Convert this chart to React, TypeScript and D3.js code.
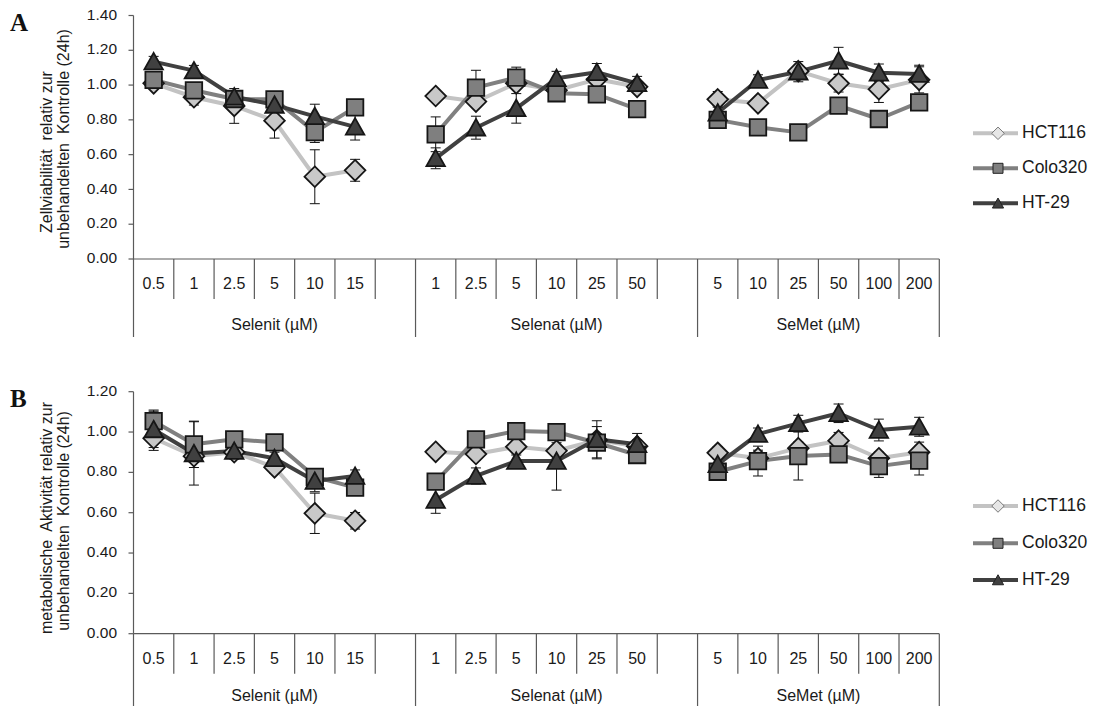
import React from "react";
import * as d3 from "d3";

// ---------- categories ----------
const SELENIT_DOSES = ["0.5", "1", "2.5", "5", "10", "15"];
const SELENAT_DOSES = ["1", "2.5", "5", "10", "25", "50"];
const SEMET_DOSES = ["5", "10", "25", "50", "100", "200"];
const GROUP_LABELS = ["Selenit (µM)", "Selenat (µM)", "SeMet (µM)"];
const SERIES_NAMES = ["HCT116", "Colo320", "HT-29"];

// ---------- panel A: Zellviabilität (Selenit 6, Selenat 6, SeMet 6) ----------
const A_HCT116 = [1.01, 0.93, 0.88, 0.795, 0.473, 0.51, 0.937, 0.905, 1.01, 0.97, 1.033, 0.99, 0.918, 0.895, 1.08, 1.01, 0.976, 1.03];
const A_HCT116_ERR = [0.02, 0.045, 0.1, 0.1, 0.155, 0.063, 0.02, 0.03, 0.03, 0.05, 0.03, 0.03, 0.045, 0.03, 0.03, 0.05, 0.076, 0.075];
const A_COLO320 = [1.03, 0.97, 0.92, 0.918, 0.73, 0.872, 0.717, 0.985, 1.043, 0.953, 0.947, 0.862, 0.8, 0.757, 0.728, 0.882, 0.805, 0.9];
const A_COLO320_ERR = [0.03, 0.04, 0.03, 0.04, 0.06, 0.03, 0.1, 0.1, 0.06, 0.04, 0.03, 0.03, 0.03, 0.02, 0.02, 0.04, 0.03, 0.03];
const A_HT29 = [1.135, 1.083, 0.933, 0.886, 0.82, 0.76, 0.579, 0.755, 0.866, 1.039, 1.074, 1.01, 0.841, 1.029, 1.077, 1.14, 1.071, 1.064];
const A_HT29_ERR = [0.03, 0.03, 0.03, 0.03, 0.07, 0.076, 0.06, 0.066, 0.085, 0.04, 0.05, 0.04, 0.04, 0.03, 0.058, 0.077, 0.05, 0.05];

// ---------- panel B: metabolische Aktivität ----------
const B_HCT116 = [0.969, 0.88, 0.9, 0.825, 0.597, 0.56, 0.902, 0.891, 0.927, 0.907, 0.96, 0.93, 0.897, 0.87, 0.92, 0.957, 0.87, 0.9];
const B_HCT116_ERR = [0.06, 0.03, 0.03, 0.03, 0.1, 0.041, 0.02, 0.03, 0.03, 0.04, 0.03, 0.03, 0.03, 0.04, 0.03, 0.041, 0.03, 0.05];
const B_COLO320 = [1.054, 0.939, 0.964, 0.949, 0.778, 0.724, 0.754, 0.964, 1.005, 1.0, 0.947, 0.886, 0.803, 0.856, 0.881, 0.889, 0.831, 0.858];
const B_COLO320_ERR = [0.055, 0.115, 0.03, 0.02, 0.04, 0.03, 0.02, 0.03, 0.03, 0.03, 0.08, 0.04, 0.02, 0.074, 0.119, 0.03, 0.056, 0.071];
const B_HT29 = [1.013, 0.894, 0.906, 0.87, 0.757, 0.782, 0.663, 0.782, 0.856, 0.856, 0.964, 0.939, 0.84, 0.99, 1.043, 1.093, 1.01, 1.026];
const B_HT29_ERR = [0.09, 0.157, 0.04, 0.03, 0.053, 0.03, 0.066, 0.04, 0.03, 0.144, 0.092, 0.054, 0.03, 0.03, 0.04, 0.046, 0.054, 0.047];

const A_TICKS = [0, 0.2, 0.4, 0.6, 0.8, 1.0, 1.2, 1.4];
const B_TICKS = [0, 0.2, 0.4, 0.6, 0.8, 1.0, 1.2];

const A_TITLE = ["Zellviabilität  relativ zur", "unbehandelten  Kontrolle (24h)"];
const B_TITLE = ["metabolische  Aktivität relativ zur", "unbehandelten  Kontrolle (24h)"];

// ---------- styles ----------
const LINE_COLORS = ["#c3c3c3", "#808080", "#404040"];
const FILL_COLORS = ["#c8c8c8", "#7f7f7f", "#404040"];
const MARKERS = ["diamond", "square", "triangle"];
const FONT = "'Liberation Sans', Arial, sans-serif";
const AXIS_COLOR = "#5a5a5a";
const TEXT_COLOR = "#1a1a1a";

type Slot = { key: string; label: string; group: number; data: number };

const GROUPS = [SELENIT_DOSES, SELENAT_DOSES, SEMET_DOSES];
const SLOTS: Slot[] = [];
{
  let di = 0;
  GROUPS.forEach((doses, g) => {
    doses.forEach((d) => {
      SLOTS.push({ key: `g${g}-${d}`, label: d, group: g, data: di++ });
    });
    if (g < GROUPS.length - 1) SLOTS.push({ key: `g${g}-blank`, label: "", group: g, data: -1 });
  });
}

const x = d3
  .scaleBand<string>()
  .domain(SLOTS.map((s) => s.key))
  .range([133.5, 939.3])
  .padding(0);

function markerPath(kind: string, s: number): string {
  const h = s / 2;
  if (kind === "square") return `M${-h},${-h}H${h}V${h}H${-h}Z`;
  if (kind === "diamond") {
    const r = h * 1.25;
    return `M0,${-r}L${r},0L0,${r}L${-r},0Z`;
  }
  const w = h * 1.12;
  return `M0,${-h * 1.05}L${w},${h * 0.95}L${-w},${h * 0.95}Z`;
}

type PanelProps = {
  label: string;
  series: number[][];
  errors: number[][];
  ticks: number[];
  yMax: number;
  yTop: number;
  yBottom: number;
  title: string[];
  titleCenters: number[];
  legendYs: number[];
  groupLabelOffset: number;
};

function Panel(p: PanelProps) {
  const y = d3.scaleLinear().domain([0, p.yMax]).range([p.yBottom, p.yTop]);
  const bw = x.bandwidth();
  const cx = (key: string) => (x(key) as number) + bw / 2;
  const dataSlots = SLOTS.filter((s) => s.data >= 0);

  const boundaries = d3.range(SLOTS.length + 1);
  const longIdx = new Set<number>([0, SLOTS.length]);
  SLOTS.forEach((s, i) => {
    if (s.label === "") longIdx.add(i + 1);
  });
  const x0 = x.range()[0];
  const xAt = (i: number) => x0 + i * bw;

  const groupSpans = GROUPS.map((_, g) => {
    const idx = SLOTS.map((s, i) => (s.group === g ? i : -1)).filter((i) => i >= 0);
    return { g, start: xAt(idx[0]), end: xAt(idx[idx.length - 1] + 1) };
  });

  return (
    <g>
      <text x={10} y={p.yTop + 15} fontFamily="'Liberation Serif', 'Times New Roman', serif" fontWeight="bold" fontSize={25} fill="#111">
        {p.label}
      </text>
      {/* axis title */}
      {p.title.map((t, i) => (
        <text
          key={i}
          transform={`translate(${48 + i * 17},${p.titleCenters[i]}) rotate(-90)`}
          textAnchor="middle"
          dominantBaseline="middle"
          fontFamily={FONT}
          fontSize={16}
          fill={TEXT_COLOR}
          style={{ whiteSpace: "pre" }}
        >
          {t}
        </text>
      ))}
      {/* y axis */}
      <line x1={x0} x2={x0} y1={y(p.yMax)} y2={y(0)} stroke={AXIS_COLOR} strokeWidth={1.2} />
      {p.ticks.map((t) => (
        <g key={t}>
          <line x1={x0 - 5} x2={x0} y1={y(t)} y2={y(t)} stroke={AXIS_COLOR} strokeWidth={1.2} />
          <text x={117} y={y(t)} textAnchor="end" dominantBaseline="middle" fontFamily={FONT} fontSize={15.5} fill={TEXT_COLOR}>
            {d3.format(".2f")(t)}
          </text>
        </g>
      ))}
      {/* x axis */}
      <line x1={x0} x2={xAt(SLOTS.length)} y1={y(0)} y2={y(0)} stroke={AXIS_COLOR} strokeWidth={1.2} />
      {boundaries.map((i) => (
        <line
          key={i}
          x1={xAt(i)}
          x2={xAt(i)}
          y1={y(0)}
          y2={y(0) + (longIdx.has(i) ? 78 : 40)}
          stroke={AXIS_COLOR}
          strokeWidth={1.2}
        />
      ))}
      {SLOTS.map((s) => (
        <text key={s.key} x={cx(s.key)} y={y(0) + 26} textAnchor="middle" dominantBaseline="middle" fontFamily={FONT} fontSize={16} fill={TEXT_COLOR}>
          {s.label}
        </text>
      ))}
      {groupSpans.map((gs) => (
        <text key={gs.g} x={(gs.start + gs.end) / 2} y={y(0) + p.groupLabelOffset} textAnchor="middle" dominantBaseline="middle" fontFamily={FONT} fontSize={16} fill={TEXT_COLOR}>
          {GROUP_LABELS[gs.g]}
        </text>
      ))}
      {/* lines */}
      {p.series.map((vals, si) =>
        GROUPS.map((_, g) => {
          const pts = dataSlots.filter((s) => s.group === g);
          const l = d3
            .line<Slot>()
            .x((s) => cx(s.key))
            .y((s) => y(vals[s.data]));
          return (
            <path key={`${si}-${g}`} d={l(pts) || ""} fill="none" stroke={LINE_COLORS[si]} strokeWidth={4} strokeLinejoin="round" />
          );
        })
      )}
      {/* error bars */}
      {p.series.map((vals, si) =>
        dataSlots.map((s) => {
          const v = vals[s.data];
          const e = p.errors[si][s.data];
          const xx = cx(s.key);
          return (
            <g key={`e${si}-${s.key}`} stroke="#111" strokeWidth={1}>
              <line x1={xx} x2={xx} y1={y(v - e)} y2={y(v + e)} />
              <line x1={xx - 5} x2={xx + 5} y1={y(v - e)} y2={y(v - e)} />
              <line x1={xx - 5} x2={xx + 5} y1={y(v + e)} y2={y(v + e)} />
            </g>
          );
        })
      )}
      {/* markers */}
      {p.series.map((vals, si) =>
        dataSlots.map((s) => (
          <path
            key={`m${si}-${s.key}`}
            transform={`translate(${cx(s.key)},${y(vals[s.data])})`}
            d={markerPath(MARKERS[si], 16.5)}
            fill={FILL_COLORS[si]}
            stroke="#161616"
            strokeWidth={1.8}
          />
        ))
      )}
      {/* legend */}
      {SERIES_NAMES.map((n, si) => (
        <g key={n} transform={`translate(0,${p.legendYs[si]})`}>
          <line x1={973} x2={1018} y1={0} y2={0} stroke={LINE_COLORS[si]} strokeWidth={4} />
          <path
            transform="translate(998,0)"
            d={markerPath(MARKERS[si], 10)}
            fill={si === 0 ? "#e6e6e6" : FILL_COLORS[si]}
            stroke={si === 0 ? "#777" : "#222"}
            strokeWidth={1}
          />
          <text x={1022} y={0} dominantBaseline="middle" fontFamily={FONT} fontSize={17.5} fill={TEXT_COLOR}>
            {n}
          </text>
        </g>
      ))}
    </g>
  );
}

export default function App() {
  return (
    <svg width={1104} height={706} style={{ position: "absolute", left: 0, top: 0, background: "#fff" }}>
      <rect width={1104} height={706} fill="#fff" />
      <Panel
        label="A"
        series={[A_HCT116, A_COLO320, A_HT29]}
        errors={[A_HCT116_ERR, A_COLO320_ERR, A_HT29_ERR]}
        ticks={A_TICKS}
        yMax={1.4}
        yTop={15.5}
        yBottom={259}
        title={A_TITLE}
        titleCenters={[152, 139]}
        legendYs={[133.3, 168.3, 203.3]}
        groupLabelOffset={67}
      />
      <Panel
        label="B"
        series={[B_HCT116, B_COLO320, B_HT29]}
        errors={[B_HCT116_ERR, B_COLO320_ERR, B_HT29_ERR]}
        ticks={B_TICKS}
        yMax={1.2}
        yTop={391.7}
        yBottom={633.7}
        title={B_TITLE}
        titleCenters={[518, 521]}
        legendYs={[506, 543.3, 580]}
        groupLabelOffset={63.5}
      />
    </svg>
  );
}
